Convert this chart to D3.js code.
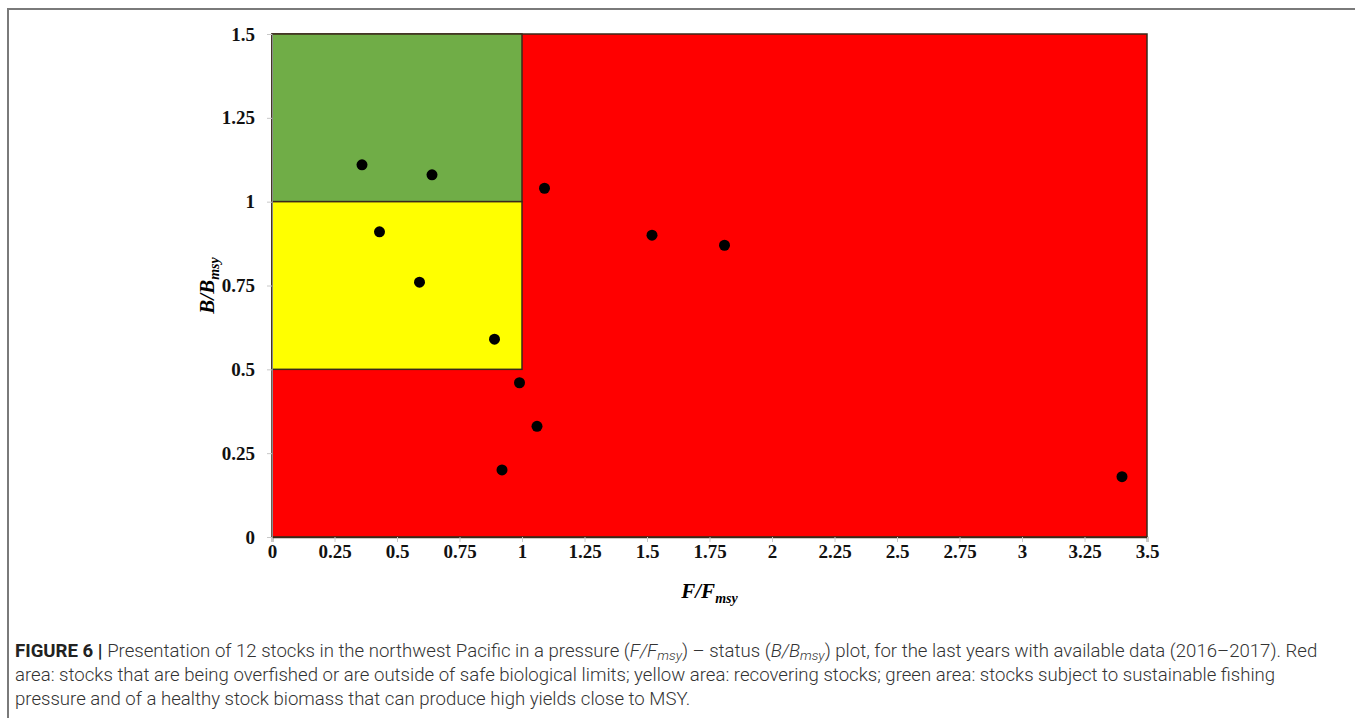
<!DOCTYPE html>
<html>
<head>
<meta charset="utf-8">
<script src="https://cdn.jsdelivr.net/npm/d3@7"></script>
<style>
  body { margin: 0; background: #fff; }
  svg { display: block; }
</style>
</head>
<body>
<svg width="1355" height="718"></svg>
<script>
// data
const fValues = [0.36, 0.64, 1.09, 0.43, 0.59, 0.89, 0.99, 1.06, 0.92, 1.52, 1.81, 3.40];
const bValues = [1.11, 1.08, 1.04, 0.91, 0.76, 0.59, 0.46, 0.33, 0.20, 0.90, 0.87, 0.18];
const xTicks = [0, 0.25, 0.5, 0.75, 1, 1.25, 1.5, 1.75, 2, 2.25, 2.5, 2.75, 3, 3.25, 3.5];
const yTicks = [0, 0.25, 0.5, 0.75, 1, 1.25, 1.5];
const zones = [
  {name: 'red', x0: 0, x1: 3.5, y0: 0, y1: 1.5, color: '#ff0000'},
  {name: 'green', x0: 0, x1: 1, y0: 1, y1: 1.5, color: '#70ad47'},
  {name: 'yellow', x0: 0, x1: 1, y0: 0.5, y1: 1, color: '#ffff00'}
];
const captionLines = [
  [['FIGURE 6 | ', 'b'], ['Presentation of 12 stocks in the northwest Pacific in a pressure ('], ['F/F', 'i'], ['msy', 'is'], [') – status ('], ['B/B', 'i'], ['msy', 'is'], [') plot, for the last years with available data (2016–2017). Red']],
  [['area: stocks that are being overfished or are outside of safe biological limits; yellow area: recovering stocks; green area: stocks subject to sustainable fishing']],
  [['pressure and of a healthy stock biomass that can produce high yields close to MSY.']]
];

const svg = d3.select('svg');

// figure frame
svg.append('path')
  .attr('d', 'M8,718 V9 H1355')
  .attr('fill', 'none')
  .attr('stroke', '#7a7a7a')
  .attr('stroke-width', 2);

const x = d3.scaleLinear().domain([0, 3.5]).range([272, 1147]);
const y = d3.scaleLinear().domain([0, 1.5]).range([537, 34]);

const serif = '"Liberation Serif", "Times New Roman", serif';

// zones
svg.selectAll('.zone')
  .data(zones)
  .enter()
  .append('rect')
  .classed('zone', true)
  .attr('x', d => x(d.x0))
  .attr('y', d => y(d.y1))
  .attr('width', d => x(d.x1) - x(d.x0))
  .attr('height', d => y(d.y0) - y(d.y1))
  .attr('fill', d => d.color)
  .attr('stroke', '#3a2a1a')
  .attr('stroke-width', 1.5);

// axes
const xAxis = svg.append('g')
  .attr('transform', `translate(0,${y(0)})`)
  .call(d3.axisBottom(x).tickValues(xTicks).tickSize(5).tickPadding(3).tickFormat(d => d3.format('')(d)));
const yAxis = svg.append('g')
  .attr('transform', `translate(${x(0)},0)`)
  .call(d3.axisLeft(y).tickValues(yTicks).tickSize(5).tickPadding(12).tickFormat(d => d3.format('')(d)));

[xAxis, yAxis].forEach(g => {
  g.select('.domain').attr('stroke', '#8a8a8a').attr('stroke-width', 1);
  g.selectAll('.tick line').attr('stroke', '#c8c8c8');
  g.selectAll('.tick text')
    .attr('fill', '#111')
    .attr('font-family', serif)
    .attr('font-weight', 'bold')
    .attr('font-size', 19);
});
xAxis.select('.domain').attr('stroke', '#3a2a1a').attr('stroke-width', 1.5);

// points
svg.selectAll('.pt')
  .data(fValues.map((f, i) => ({f, b: bValues[i]})))
  .enter()
  .append('circle')
  .classed('pt', true)
  .attr('cx', d => x(d.f))
  .attr('cy', d => y(d.b))
  .attr('r', 5.5)
  .attr('fill', '#000');

// axis titles
const xt = svg.append('text')
  .attr('x', (x(0) + x(3.5)) / 2)
  .attr('y', 598)
  .attr('text-anchor', 'middle')
  .attr('font-family', serif)
  .attr('font-weight', 'bold')
  .attr('font-style', 'italic')
  .attr('font-size', 21);
xt.append('tspan').text('F/F');
xt.append('tspan').attr('font-size', 14).attr('dy', 5).text('msy');

const yt = svg.append('text')
  .attr('transform', `translate(214,${(y(0) + y(1.5)) / 2}) rotate(-90)`)
  .attr('text-anchor', 'middle')
  .attr('font-family', serif)
  .attr('font-weight', 'bold')
  .attr('font-style', 'italic')
  .attr('font-size', 21);
yt.append('tspan').text('B/B');
yt.append('tspan').attr('font-size', 14).attr('dy', 5).text('msy');

// caption
const cap = svg.append('g')
  .attr('font-family', 'Roboto, "Liberation Sans", sans-serif')
  .attr('font-weight', 300)
  .attr('font-size', 15)
  .attr('fill', '#333');

captionLines.forEach((parts, li) => {
  const t = cap.append('text')
    .attr('x', 15)
    .attr('y', 657 + li * 24);
  let sub = false;
  parts.forEach(([s, st]) => {
    const ts = t.append('tspan').text(s);
    if (st === 'b') ts.attr('font-weight', 'bold').attr('fill', '#222');
    if (st === 'i') ts.attr('font-style', 'italic');
    if (st === 'is') {
      ts.classed('sub', true).attr('font-style', 'italic').attr('font-size', 11).attr('dy', 3);
      sub = true;
    } else if (sub) {
      ts.attr('dy', -3);
      sub = false;
    }
  });
});

// fit the first caption line to its width in the figure
const first = cap.select('text').node();
const k = 1303 / first.getComputedTextLength();
cap.attr('font-size', 15 * k);
cap.selectAll('.sub').attr('font-size', 11 * k);
</script>
</body>
</html>
